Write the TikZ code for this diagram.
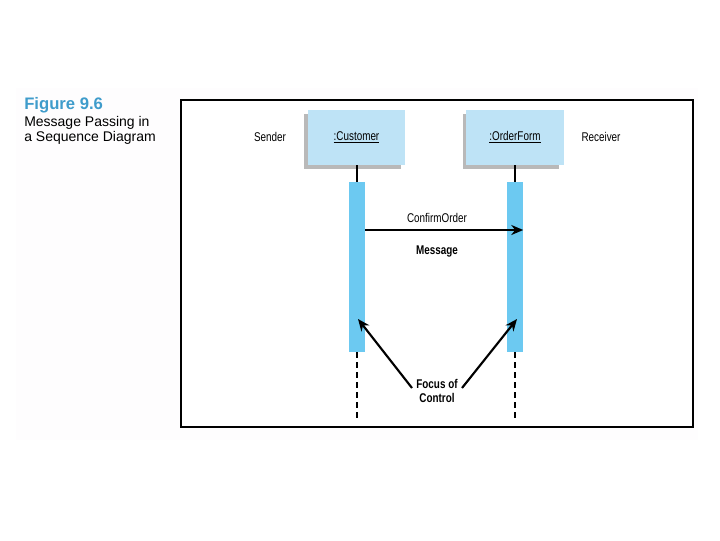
\documentclass[tikz,border=0pt]{standalone}
\usepackage{fontspec}
\setmainfont{Liberation Sans}
\newfontfamily\narrowfont[FakeStretch=0.78]{Liberation Sans}
\usetikzlibrary{arrows.meta}
\definecolor{figblue}{HTML}{3F9CCB}
\definecolor{boxblue}{HTML}{BEE3F6}
\definecolor{barblue}{HTML}{6CC9F1}
\definecolor{bgfaint}{HTML}{FEFDFE}
\tikzset{
  objbox/.style={draw=none, fill=boxblue, minimum width=73pt, minimum height=41pt, inner sep=0pt, font=\narrowfont\fontsize{9.5}{11}\selectfont},
  bar/.style={fill=barblue, draw=none, minimum width=12pt, minimum height=127.5pt, inner sep=0pt},
  lbl/.style={font=\narrowfont\fontsize{9.5}{11}\selectfont, inner sep=1pt},
  blbl/.style={font=\narrowfont\bfseries\fontsize{9.5}{10.5}\selectfont, inner sep=1pt, align=center},
  msg/.style={line width=1.6pt, -{Stealth[length=9pt,width=7.5pt]}},
  life/.style={line width=1.6pt},
  dashlife/.style={line width=1.6pt, dash pattern=on 4.5pt off 3pt},
}
\begin{document}
\begin{tikzpicture}[x=0.75pt,y=-0.75pt]
\useasboundingbox (0,0) rectangle (720,540);
\fill[white] (0,0) rectangle (720,540);
\fill[bgfaint] (16,88) rectangle (698,440);
% caption
\node[anchor=north west, inner sep=0pt, align=left, text=figblue, font=\bfseries\fontsize{12.5}{13}\selectfont] (figt) at (24,97) {Figure 9.6};
\node[anchor=north west, inner sep=0pt, align=left, font=\fontsize{10.5}{11.2}\selectfont] (figc) at (24,116) {Message Passing in\\a Sequence Diagram};
% frame
\draw[line width=1.6pt, fill=white] (181,100) rectangle (693,427);
% shadows
\fill[gray!55] (304,114) rectangle (401,169);
\fill[gray!55] (463,114) rectangle (559,169);
% object boxes
\node[objbox] (cust) at (356.5,137.5) {\underline{:Customer}};
\node[objbox] (order) at (515,137.5) {\underline{:OrderForm}};
\node[lbl] (sender) at (270,137) {Sender};
\node[lbl] (receiver) at (601,137) {Receiver};
% activation bars
\node[bar] (bc) at (357,267) {};
\node[bar] (bo) at (515,267) {};
% lifelines
\coordinate (ec) at (357,418);
\coordinate (eo) at (515,418);
\draw[life] (cust.south -| bc.north) -- (bc.north);
\draw[life] (order.south -| bo.north) -- (bo.north);
\draw[dashlife] (bc.south) -- (ec);
\draw[dashlife] (bo.south) -- (eo);
% message
\coordinate (ms) at (365,230);
\coordinate (me) at (523,230);
\draw[msg] (bc.east |- ms) -- (bo.east |- me);
\node[lbl] (mname) at (437,218) {ConfirmOrder};
\node[blbl] (mlabel) at (437,251) {Message};
% focus of control
\node[blbl] (foc) at (437,391) {Focus of\\Control};
\coordinate (fc) at (358,319);
\coordinate (fo) at (517,319);
\draw[msg] (412,388) -- (fc);
\draw[msg] (462,388) -- (fo);
\end{tikzpicture}
\end{document}
